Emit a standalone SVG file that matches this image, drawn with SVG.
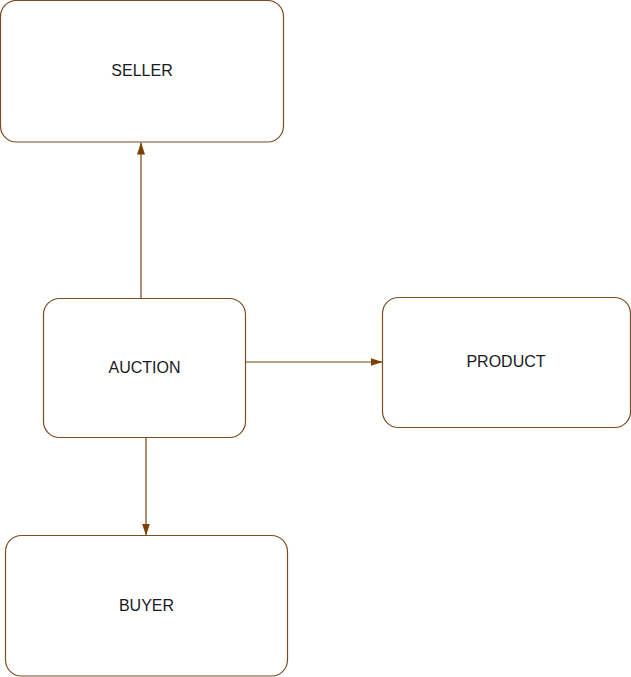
<svg xmlns="http://www.w3.org/2000/svg" width="631" height="677" viewBox="0 0 631 677">
<style>
.node rect{fill:#fff;stroke:#7a4d22;stroke-width:1.2}
.node text{font-family:"Liberation Sans",Arial,sans-serif;font-size:16px;fill:#1a1a24;text-anchor:middle;dominant-baseline:central}
.edge{stroke:#7a4510;stroke-width:1.2;fill:none}
</style>
<defs>
<marker id="arr" viewBox="0 0 12 8" refX="12" refY="4" markerWidth="12" markerHeight="8" markerUnits="userSpaceOnUse" orient="auto">
<path d="M0,0 L12,4 L0,8 Z" fill="#7a4000"/>
</marker>
</defs>
<rect width="631" height="677" fill="#fff"/>
<g id="connectors">
<line class="edge" x1="141" y1="298" x2="141" y2="142.5" marker-end="url(#arr)"/>
<line class="edge" x1="245.5" y1="362" x2="382.5" y2="362" marker-end="url(#arr)"/>
<line class="edge" x1="146" y1="437.5" x2="146" y2="535.5" marker-end="url(#arr)"/>
</g>
<g id="seller" class="node">
<rect x="0.5" y="0.5" width="283" height="141.5" rx="16"/>
<text x="142" y="70">SELLER</text>
</g>
<g id="auction" class="node">
<rect x="43.5" y="298.5" width="202" height="139" rx="16"/>
<text x="144.5" y="367">AUCTION</text>
</g>
<g id="product" class="node">
<rect x="382.5" y="297.5" width="248" height="130" rx="16"/>
<text x="506" y="361">PRODUCT</text>
</g>
<g id="buyer" class="node">
<rect x="5.5" y="535.5" width="282" height="140.5" rx="16"/>
<text x="146.5" y="605">BUYER</text>
</g>
</svg>
